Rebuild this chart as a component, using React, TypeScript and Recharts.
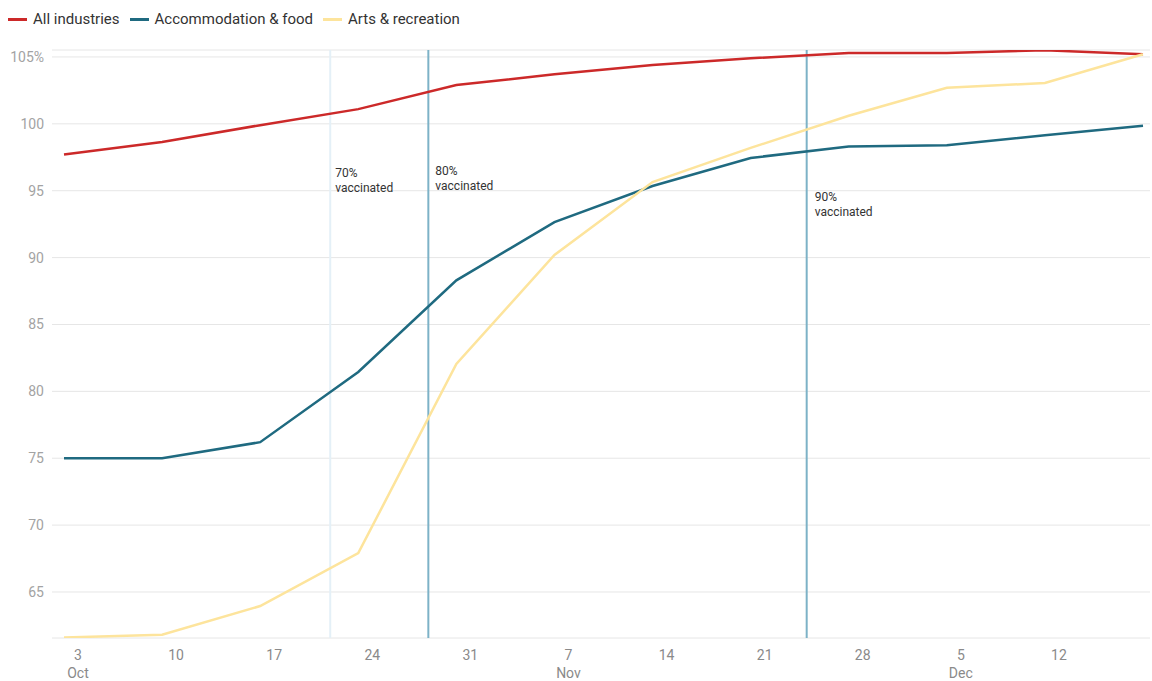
import { LineChart, Line, XAxis, YAxis, CartesianGrid, ReferenceLine } from "recharts";

// days since 2 Oct (weekly data points)
const days = [0, 7, 14, 21, 28, 35, 42, 49, 56, 63, 70, 77];
const allIndustries = [97.7, 98.65, 99.9, 101.1, 102.9, 103.7, 104.4, 104.9, 105.3, 105.3, 105.5, 105.2];
const accommodation = [75.0, 75.0, 76.2, 81.45, 88.3, 92.65, 95.35, 97.45, 98.3, 98.4, 99.15, 99.85];
const arts = [61.6, 61.8, 63.95, 67.9, 82.05, 90.2, 95.65, 98.2, 100.6, 102.7, 103.05, 105.2];

// x ticks: day index, day-of-month, month label (only first tick of month)
const tickDays = [1, 8, 15, 22, 29, 36, 43, 50, 57, 64, 71];
const tickDates = ["3", "10", "17", "24", "31", "7", "14", "21", "28", "5", "12"];
const tickMonths = ["Oct", "", "", "", "", "Nov", "", "", "", "Dec", ""];

const yTicks = [65, 70, 75, 80, 85, 90, 95, 100, 105];

const vaxDays = [19, 26, 53];
const vaxLabels = ["70%", "80%", "90%"];

const seriesNames = ["All industries", "Accommodation & food", "Arts & recreation"];
const seriesKeys = ["all", "accom", "arts"];
const seriesColors = ["#cc2929", "#1f6a80", "#fde49c"];

const vaxStyle = [
  { color: "#e4f0f7", dx: 5, dy: 127 },
  { color: "#7db2c7", dx: 7, dy: 125 },
  { color: "#7db2c7", dx: 8, dy: 151 },
];

const data = days.map((d, i) => ({
  day: d,
  all: allIndustries[i],
  accom: accommodation[i],
  arts: arts[i],
}));

const FONT = "Roboto, 'Noto Sans', sans-serif";

function XTick(props: any) {
  const { x, y, payload } = props;
  const i = tickDays.indexOf(payload.value);
  return (
    <g>
      <text x={x} y={y + 14} textAnchor="middle" fill="#8a8a8a" fontSize={14} fontFamily={FONT}>
        {tickDates[i]}
      </text>
      {tickMonths[i] && (
        <text x={x} y={y + 32} textAnchor="middle" fill="#8a8a8a" fontSize={14} fontFamily={FONT}>
          {tickMonths[i]}
        </text>
      )}
    </g>
  );
}

function YTick(props: any) {
  const { x, y, payload } = props;
  return (
    <text x={x} y={y + 5} textAnchor="end" fill="#a3a3a3" fontSize={14} fontFamily={FONT}>
      {payload.value === 105 ? "105%" : payload.value}
    </text>
  );
}

function ChartLegend() {
  return (
    <div
      style={{
        position: "absolute",
        left: 8,
        top: 10,
        display: "flex",
        alignItems: "center",
        fontFamily: FONT,
        fontSize: 15,
        color: "#333",
        lineHeight: "18px",
      }}
    >
      {seriesNames.map((n, i) => (
        <div key={n} style={{ display: "flex", alignItems: "center", marginRight: 10 }}>
          <span style={{ display: "inline-block", width: 19, height: 3, background: seriesColors[i], marginRight: 6 }} />
          <span>{n}</span>
        </div>
      ))}
    </div>
  );
}

function vaxLabel(i: number) {
  return (props: any) => {
    const { viewBox } = props;
    const x = viewBox.x + vaxStyle[i].dx;
    const y = viewBox.y + vaxStyle[i].dy;
    return (
      <text x={x} y={y} fill="#333" fontSize={12} fontFamily={FONT}>
        <tspan x={x}>{vaxLabels[i]}</tspan>
        <tspan x={x} dy={15}>vaccinated</tspan>
      </text>
    );
  };
}

export default function App() {
  return (
    <div style={{ position: "absolute", left: 0, top: 0, width: 1152, height: 681, background: "#fff" }}>
      <ChartLegend />
      <LineChart width={1152} height={681} data={data} margin={{ top: 50, right: 2, bottom: 0, left: 0 }}>
        <CartesianGrid horizontal vertical={false} stroke="#e6e6e6" />
        <XAxis
          dataKey="day"
          type="number"
          domain={[0, 77]}
          ticks={tickDays}
          padding={{ left: 12, right: 7 }}
          axisLine={false}
          tickLine={false}
          tick={<XTick />}
          interval={0}
          height={43}
        />
        <YAxis
          type="number"
          domain={[61.56, 105.52]}
          ticks={yTicks}
          axisLine={false}
          tickLine={false}
          tick={<YTick />}
          width={52}
          interval={0}
          allowDataOverflow
        />
        {vaxDays.map((d, i) => (
          <ReferenceLine key={d} x={d} stroke={vaxStyle[i].color} strokeWidth={2} label={vaxLabel(i)} />
        ))}
        {seriesKeys.map((k, i) => (
          <Line
            key={k}
            dataKey={k}
            name={seriesNames[i]}
            stroke={seriesColors[i]}
            strokeWidth={2.5}
            dot={false}
            type="linear"
            isAnimationActive={false}
          />
        ))}
      </LineChart>
    </div>
  );
}
